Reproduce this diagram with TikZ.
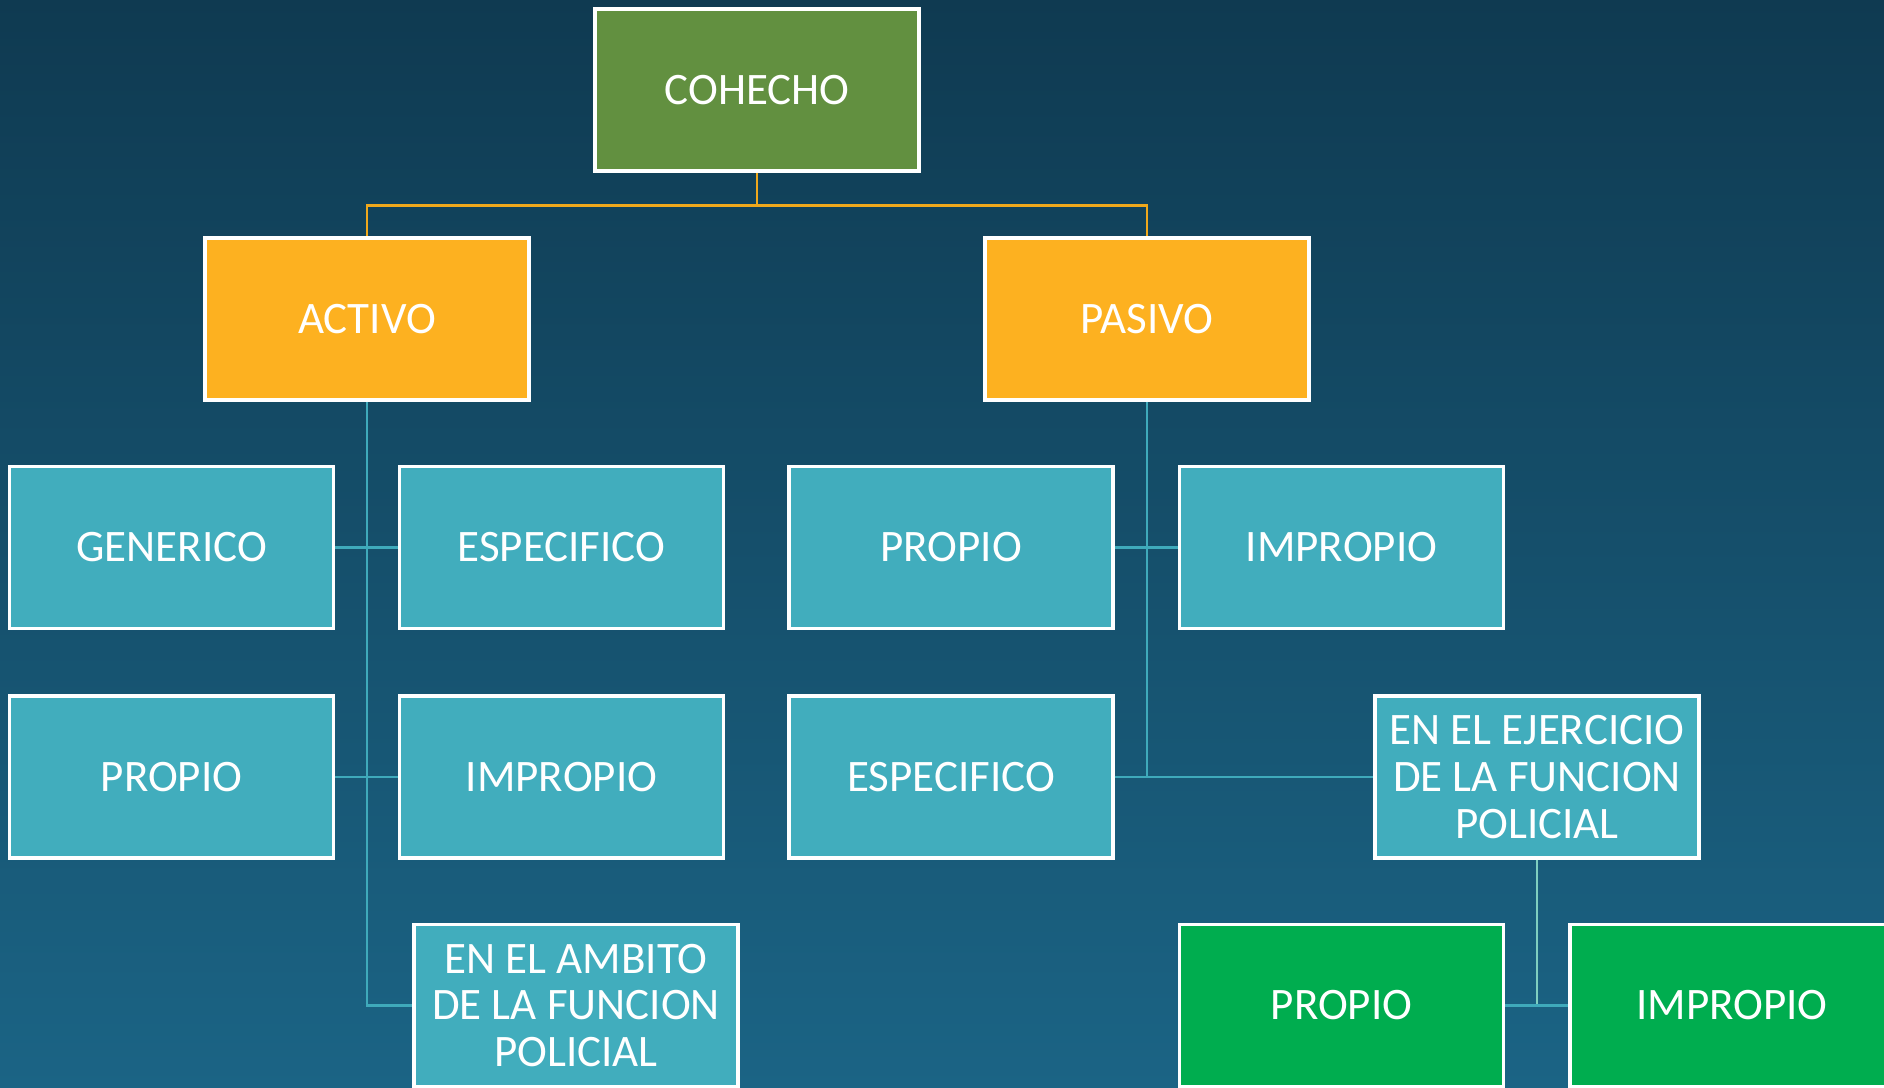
\documentclass[tikz,border=0pt]{standalone}
\usepackage{fontspec}
\setmainfont{Carlito}
\usetikzlibrary{positioning, calc}
\definecolor{bgtop}{HTML}{0F3A51}
\definecolor{bgbottom}{HTML}{1B6485}
\definecolor{rootgreen}{HTML}{629040}
\definecolor{kindorange}{HTML}{FDB120}
\definecolor{leafteal}{HTML}{41ADBD}
\definecolor{subgreen}{HTML}{00AD4F}
\definecolor{linkorange}{HTML}{EFA81C}
\definecolor{linkteal}{HTML}{3FAABB}
\definecolor{linkmint}{HTML}{7FCFC0}

\begin{document}
\begin{tikzpicture}[
    x=0.01cm, y=-0.01cm,
    box/.style={draw=white, line width=1pt, fill=#1, text=white, minimum width=3.24cm, minimum height=1.62cm,
      inner sep=1pt, align=center, font=\fontsize{12.8}{13.3}\selectfont},
    link/.style={line width=0.8pt, draw=#1},
]
    % Background
    \shade[top color=bgtop, bottom color=bgbottom] (0,0) rectangle (1884,1088);
    \useasboundingbox (0,0) rectangle (1884,1088);
    \clip (0,0) rectangle (1884,1088);

    % Root
    \node[box=rootgreen] (cohecho) at (757, 90) {COHECHO};

    % Kinds
    \node[box=kindorange] (activo) at (367, 319) {ACTIVO};
    \node[box=kindorange] (pasivo) at (1147, 319) {PASIVO};

    % Activo leaves
    \node[box=leafteal] (genericoA) at (171.5, 547.5) {GENERICO};
    \node[box=leafteal] (especificoA) at (561.5, 547.5) {ESPECIFICO};
    \node[box=leafteal] (propioA) at (171.5, 777) {PROPIO};
    \node[box=leafteal] (impropioA) at (561.5, 777) {IMPROPIO};
    \node[box=leafteal] (ambito) at (576, 1005.5) {EN EL AMBITO\\DE LA FUNCION\\POLICIAL};

    % Pasivo leaves
    \node[box=leafteal] (propioP) at (951, 547.5) {PROPIO};
    \node[box=leafteal] (impropioP) at (1341.5, 547.5) {IMPROPIO};
    \node[box=leafteal] (especificoP) at (951, 777) {ESPECIFICO};
    \node[box=leafteal] (ejercicio) at (1537, 777) {EN EL EJERCICIO\\DE LA FUNCION\\POLICIAL};

    % Ejercicio leaves
    \node[box=subgreen] (propioE) at (1341.5, 1005.5) {PROPIO};
    \node[box=subgreen] (impropioE) at (1732, 1005.5) {IMPROPIO};

    % Root links
    \draw[link=linkorange] (cohecho.south) -- ++(0, 33) -| (activo.north);
    \draw[link=linkorange] (cohecho.south) -- ++(0, 33) -| (pasivo.north);

    % Activo links
    \draw[link=linkteal] (activo.south) |- (ambito.west);
    \draw[link=linkteal] (genericoA.east) -- (especificoA.west);
    \draw[link=linkteal] (propioA.east) -- (impropioA.west);

    % Pasivo links
    \draw[link=linkteal] (pasivo.south) -- (pasivo.south |- especificoP.east);
    \draw[link=linkteal] (propioP.east) -- (impropioP.west);
    \draw[link=linkteal] (especificoP.east) -- (ejercicio.west);

    % Ejercicio links
    \draw[link=linkmint] (ejercicio.south) -- (ejercicio.south |- propioE.east);
    \draw[link=linkteal] (propioE.east) -- (impropioE.west);
\end{tikzpicture}
\end{document}
